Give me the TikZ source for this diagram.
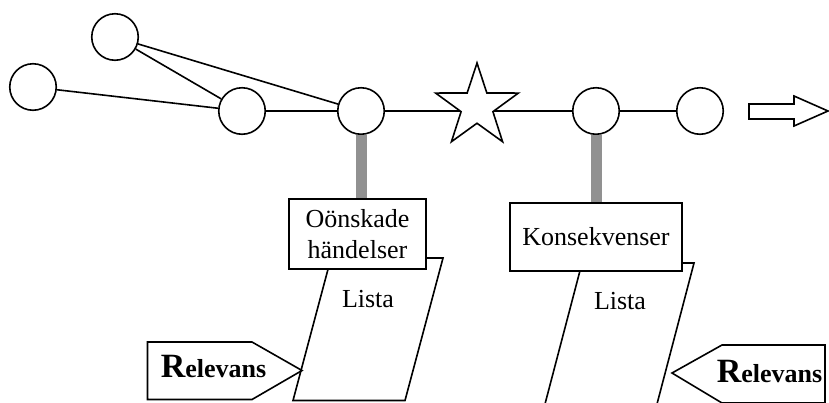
\documentclass[tikz,border=0pt]{standalone}
\usepackage{fontspec}
\setmainfont{Liberation Serif}
\usetikzlibrary{shapes.geometric}
\begin{document}
\begin{tikzpicture}[x=1pt, y=-1pt, line width=1.6pt,
        state/.style={draw, circle, fill=white, minimum size=46.5pt, inner sep=0pt},
        box/.style={draw, fill=white, inner sep=0pt, align=center, font=\fontsize{26}{31}\selectfont},
        txt/.style={inner sep=0pt, font=\fontsize{26}{31}\selectfont},
        bar/.style={line width=11pt, black!43}]
        \useasboundingbox (0,0) rectangle (829,402);

        \node[state] (c1) at (33,87) {};
        \node[state] (c2) at (115,37) {};
        \node[state] (c3) at (242,111) {};
        \node[state] (c4) at (361,111) {};
        \node[state] (c5) at (596,111) {};
        \node[state] (c6) at (700,111) {};

        \draw (c1) -- (c3);
        \draw (c2) -- (c3);
        \draw (c2) -- (c4);
        \draw (c3) -- (c4);
        \draw (c4) -- (c5);
        \draw (c5) -- (c6);

        \node[draw, star, star points=5, star point ratio=2.6, minimum size=87pt, inner sep=0pt, fill=white] (event) at (477,106.5) {};

        % framtid
        \draw (749,104) -- (794,104) -- (794,96) -- (828,111) -- (794,126) -- (794,119) -- (749,119) -- cycle;

        % listor
        \draw[fill=white] (331,258) -- (443,258) -- (405,400.5) -- (293,400.5) -- cycle;
        \draw[fill=white] (582,263) -- (694,263) -- (657,404) -- (545,404) -- cycle;
        \node[txt, anchor=base] (lista1) at (368,307) {Lista};
        \node[txt, anchor=base] (lista2) at (620,309) {Lista};

        \node[box, minimum width=137pt, minimum height=70pt] (unwanted) at (357.5,234) {Oönskade\\händelser};
        \node[box, minimum width=172pt, minimum height=68pt] (conseq) at (596,237) {Konsekvenser};

        \draw[bar] (c4.south) -- (c4 |- unwanted.north);
        \draw[bar] (c5.south) -- (c5 |- conseq.north);

        % relevans
        \draw[fill=white] (147.5,342) -- (252,342) -- (302,370.5) -- (252,399.5) -- (147.5,399.5) -- cycle;
        \draw[fill=white] (672,373) -- (722,345) -- (825,345) -- (825,403) -- (722,403) -- cycle;
        \node[txt, anchor=base west] (rel1) at (160,377) {\bfseries{\fontsize{34}{34}\selectfont R}elevans};
        \node[txt, anchor=base west] (rel2) at (716,382) {\bfseries{\fontsize{34}{34}\selectfont R}elevans};
\end{tikzpicture}
\end{document}
